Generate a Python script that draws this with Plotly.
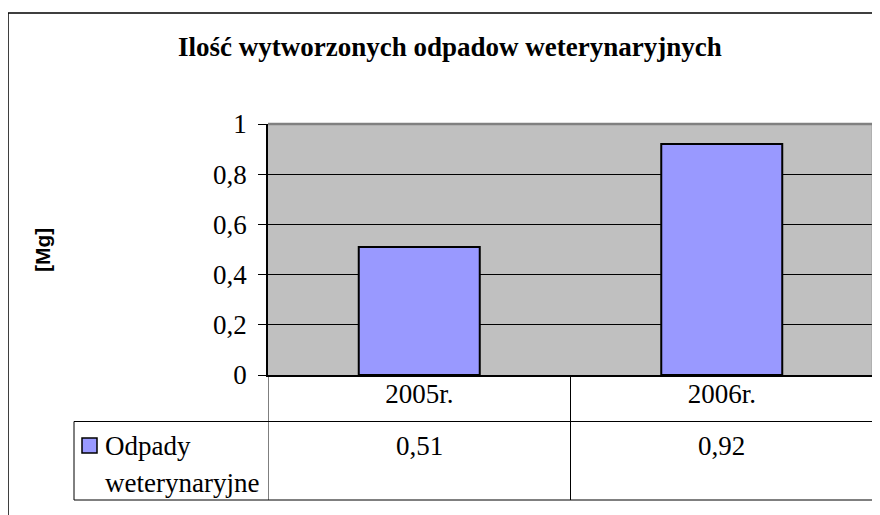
import plotly.graph_objects as go

# ---- data ----
title_text = "Ilość wytworzonych odpadow weterynaryjnych"
y_title = "[Mg]"
categories = ["2005r.", "2006r."]
series_name = "Odpady weterynaryjne"
values = [0.51, 0.92]
value_labels = ["0,51", "0,92"]
y_tick_vals = [0, 0.2, 0.4, 0.6, 0.8, 1.0]

# ---- geometry (reference pixels; page has an 8px body margin) ----
OFF = 8
W, H = 880 - OFF, 515 - OFF
L, R, T, B = 268 - OFF, 873 - OFF, 124 - OFF, 375 - OFF


def pxx(px):
    return (px - OFF - L) / (R - L)


def pxy(py):
    return (B - (py - OFF)) / (B - T)


SERIF = "Liberation Serif"
SANS = "Liberation Sans"
FS = 27

fig = go.Figure()
fig.add_trace(go.Bar(
    x=categories, y=values, name=series_name, width=0.4,
    marker=dict(color="#9999FF", line=dict(color="black", width=2)),
    showlegend=False,
))

shapes = []
shapes.append(dict(type="rect", xref="paper", yref="paper",
                   x0=pxx(8), y0=pxy(13), x1=pxx(884), y1=pxy(520),
                   line=dict(color="black", width=1.5), layer="above"))
shapes.append(dict(type="line", xref="paper", yref="paper",
                   x0=0, x1=1, y0=1, y1=1,
                   line=dict(color="#808080", width=2.5), layer="above"))
shapes.append(dict(type="line", xref="paper", yref="paper",
                   x0=1, x1=1, y0=0, y1=1,
                   line=dict(color="#808080", width=2.5), layer="above"))
row1_bottom = 421.5
row2_bottom = 500
for yy in (row1_bottom, row2_bottom):
    shapes.append(dict(type="line", xref="paper", yref="paper",
                       x0=pxx(74), x1=1, y0=pxy(yy), y1=pxy(yy),
                       line=dict(color="black", width=1)))
shapes.append(dict(type="line", xref="paper", yref="paper",
                   x0=pxx(74), x1=pxx(74), y0=pxy(row1_bottom), y1=pxy(row2_bottom),
                   line=dict(color="black", width=1)))
n = len(categories)
for k in range(n + 1):
    shapes.append(dict(type="line", xref="x", yref="paper",
                       x0=k - 0.5, x1=k - 0.5, y0=0, y1=pxy(row2_bottom),
                       line=dict(color="black", width=1)))
shapes.append(dict(type="rect", xref="paper", yref="paper",
                   x0=pxx(82), x1=pxx(97), y0=pxy(438), y1=pxy(453),
                   fillcolor="#9999FF", line=dict(color="black", width=1.5)))

annotations = []
annotations.append(dict(text="<b>" + title_text + "</b>", xref="paper", yref="paper",
                        x=pxx(450), y=pxy(47), xanchor="center", yanchor="middle",
                        showarrow=False, font=dict(family=SERIF, size=FS, color="black")))
annotations.append(dict(text="<b>" + y_title + "</b>", xref="paper", yref="paper",
                        x=pxx(42), y=pxy(250), xanchor="center", yanchor="middle",
                        textangle=-90, showarrow=False,
                        font=dict(family=SANS, size=21, color="black")))
for i, lab in enumerate(value_labels):
    annotations.append(dict(text=lab, xref="x", yref="paper", x=categories[i],
                            y=pxy(446), xanchor="center", yanchor="middle",
                            showarrow=False, font=dict(family=SERIF, size=FS, color="black")))
name_lines = series_name.split(" ")
for j, line in enumerate(name_lines):
    annotations.append(dict(text=line, xref="paper", yref="paper", x=pxx(103),
                            y=pxy(446 + 37 * j), xanchor="left", yanchor="middle",
                            showarrow=False, font=dict(family=SERIF, size=FS, color="black")))

fig.update_layout(
    width=W, height=H, autosize=False,
    margin=dict(l=L, r=W - R, t=T, b=H - B, pad=0),
    paper_bgcolor="white", plot_bgcolor="#C0C0C0",
    separators=", ",
    shapes=shapes, annotations=annotations,
    xaxis=dict(type="category", range=[-0.5, n - 0.5], showgrid=False,
               showline=True, linecolor="black", linewidth=1.5,
               ticks="", tickfont=dict(family=SERIF, size=FS, color="black"),
               ticklabelstandoff=-6, zeroline=False),
    yaxis=dict(range=[0, 1], tickvals=y_tick_vals, showgrid=True, gridcolor="black",
               gridwidth=1, showline=True, linecolor="black", linewidth=1.5,
               ticks="outside", ticklen=8, tickcolor="black", tickwidth=1,
               tickfont=dict(family=SERIF, size=FS, color="black"),
               ticklabelstandoff=6, zeroline=False),
)

fig.write_html("out.html")
